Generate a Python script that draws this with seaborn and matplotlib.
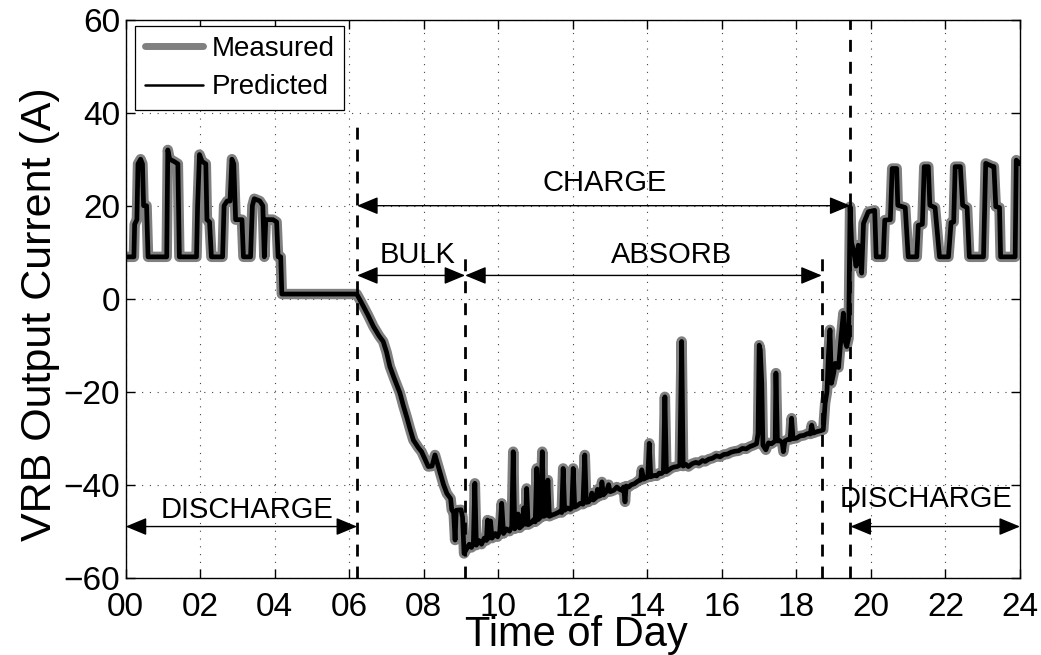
import matplotlib
matplotlib.use("Agg")
import matplotlib.pyplot as plt
import numpy as np
import pandas as pd
import seaborn as sns

# ---------------- data (hours, amps) ----------------
night_t = [0.00, 0.22, 0.24, 0.30, 0.33, 0.40, 0.45, 0.48, 0.56, 0.60,
           1.10, 1.13, 1.18, 1.30, 1.40, 1.44,
           1.90, 1.93, 1.98, 2.05, 2.15, 2.18, 2.25, 2.30,
           2.60, 2.64, 2.72, 2.80, 2.85, 2.90, 2.95, 3.12, 3.16,
           3.35, 3.40, 3.45, 3.60, 3.68, 3.72, 3.76, 3.95, 4.05, 4.09, 4.16, 4.19,
           6.20]
night_a = [9, 9, 16, 17, 29, 30, 29, 20, 20, 9,
           9, 32, 30, 29.5, 29, 9,
           9, 20, 31, 29.5, 29, 17, 16.5, 9,
           9, 20, 21, 21, 30, 29, 17, 17, 9,
           9, 20, 21.5, 21, 20, 9, 17, 17, 16.5, 9, 9, 1,
           1]

bulk_t = [6.29, 6.40, 6.50, 6.65, 6.80, 6.91, 7.00, 7.09, 7.20, 7.36, 7.45, 7.54, 7.63,
          7.72, 7.85, 7.94, 8.03, 8.12, 8.22, 8.30, 8.44, 8.53, 8.62, 8.72, 8.75, 8.80,
          8.84, 8.87, 9.00, 9.04, 9.08]
bulk_a = [-0.3, -2.0, -3.5, -6, -8, -9.2, -11.5, -14.6, -17, -20.3, -23, -25.4, -28,
          -30.4, -32, -32.9, -34.5, -36.1, -36, -33.6, -37.5, -40, -41.9, -43, -45.4, -46,
          -51.9, -45.5, -45.4, -47, -54.8]

absorb_t = [9.10, 9.15, 9.22, 9.28, 9.33, 9.37, 9.41, 9.48, 9.55, 9.62, 9.68, 9.71, 9.75,
            9.79, 9.83, 9.92, 9.98, 10.04, 10.09, 10.14, 10.22, 10.30, 10.36, 10.40, 10.44,
            10.50, 10.53, 10.57, 10.64, 10.68, 10.73, 10.76, 10.80, 10.88, 10.95, 10.99,
            11.03, 11.07, 11.13, 11.18, 11.22, 11.30, 11.33, 11.37, 11.45, 11.52, 11.60,
            11.66, 11.70, 11.74, 11.78, 11.86, 11.93, 11.97, 12.01, 12.05, 12.12, 12.20,
            12.27, 12.32, 12.36, 12.42, 12.48, 12.51, 12.55, 12.62, 12.66, 12.70, 12.75,
            12.78, 12.82, 12.90, 12.96, 13.00, 13.10, 13.18, 13.25, 13.31, 13.36, 13.40,
            13.43, 13.50, 13.57, 13.65, 13.75, 13.82, 13.85, 13.90, 13.97, 14.01, 14.05,
            14.09, 14.18, 14.25, 14.32, 14.38, 14.43, 14.47, 14.51, 14.58, 14.65, 14.72,
            14.80, 14.87, 14.92, 14.96, 15.03, 15.10, 15.20, 15.30, 15.38, 15.48, 15.55,
            15.65, 15.75, 15.85, 15.95, 16.05, 16.15, 16.25, 16.35, 16.45, 16.55, 16.65,
            16.75, 16.85, 16.93, 16.97, 17.00, 17.03, 17.07, 17.10, 17.18, 17.25, 17.33,
            17.40, 17.43, 17.45, 17.49, 17.55, 17.62, 17.65, 17.69, 17.76, 17.83, 17.87,
            17.91, 18.00, 18.10, 18.20, 18.30, 18.37, 18.41, 18.45, 18.55, 18.65, 18.72]
absorb_a = [-54.5, -53.8, -52.8, -53.5, -52.5, -39.7, -53, -52, -52.8, -51.5, -52, -47.6, -51.5,
            -47.8, -51.5, -50.5, -51.2, -50, -44, -50.5, -49.5, -50, -49, -32.9, -49.5,
            -48.5, -46.3, -49.3, -48.8, -45, -48.5, -40.8, -48.6, -48.2, -47.5, -48,
            -36.5, -47.5, -47, -32.9, -46.8, -46.5, -39, -46.8, -46.5, -46.3, -46,
            -45.7, -46, -36.5, -45.5, -45, -45.3, -45, -36.5, -44.8, -44.5, -44,
            -44.2, -33.6, -43.8, -43.7, -43, -41.8, -43.3, -42.8, -41, -42.5, -42.3,
            -39.4, -42.2, -41.5, -40, -41.5, -41.2, -40.5, -41, -41.2, -40.5, -43.7,
            -40.3, -40.5, -40, -39.8, -39.2, -39, -36.8, -38.8, -38.5, -38.4, -31.1,
            -38.3, -38, -38.1, -37.5, -37.6, -37.2, -21.1, -37.2, -36.8, -36.4, -36.2,
            -36.1, -35.8, -9.2, -36, -35.6, -36.1, -35.5, -35.2, -35.4, -34.8, -35,
            -34.5, -34.3, -33.8, -34, -33.5, -33.4, -33.0, -32.8, -32.7, -32.2, -32.3,
            -31.8, -31.5, -31.2, -29, -10, -11, -18.2, -31.5, -32.5, -31, -31.2,
            -30.8, -30.6, -16, -30.6, -30.5, -31, -32.9, -30.6, -30.3, -30.3, -25.7,
            -30.1, -30.0, -29.5, -29.4, -29, -29.1, -27.2, -28.9, -28.6, -28.4, -28.2]

rise_t = [18.77, 18.82, 18.86, 18.90, 18.94, 19.00, 19.04, 19.13, 19.20, 19.26, 19.30,
          19.35, 19.40, 19.44]
rise_a = [-22.5, -20, -12, -6.7, -18.2, -16, -13.9, -14.8, -8, -3.1, -9,
          -10.3, -8.5, 19.8]

evening_t = [19.48, 19.53, 19.60, 19.66, 19.72, 19.75, 19.80, 19.93, 20.10, 20.14, 20.33,
             20.37, 20.52, 20.57, 20.69, 20.72, 20.92, 21.00, 21.23, 21.27, 21.38, 21.43,
             21.54, 21.58, 21.72, 21.84, 22.08, 22.15, 22.22, 22.26, 22.40, 22.46, 22.58,
             22.64, 23.02, 23.08, 23.25, 23.30, 23.35, 23.45, 23.48, 23.87, 23.90, 24.00]
evening_a = [12, 10.5, 7, 11.5, 9, 5.5, 16.2, 18.7, 19, 9, 9,
             16.9, 17, 28, 28, 20.1, 19.6, 9, 9, 15.8, 16, 28.4,
             28.4, 20.1, 19.6, 9, 9, 16.4, 16.5, 28.4, 28.4, 20.1, 19.6,
             9, 9, 29.1, 28.5, 28.4, 19.8, 19.6, 9, 9, 29.8, 29]

x_ticks = [0, 2, 4, 6, 8, 10, 12, 14, 16, 18, 20, 22, 24]
x_tick_labels = ["00", "02", "04", "06", "08", "10", "12", "14", "16", "18", "20", "22", "24"]
y_ticks = [-60, -40, -20, 0, 20, 40, 60]
y_tick_labels = ["\u221260", "\u221240", "\u221220", "0", "20", "40", "60"]

# phase boundaries (hour, top of dashed line in A)
boundary_t = [6.21, 9.11, 18.68, 19.45]
boundary_top = [38, 10, 9.5, 60]

# phase arrows (start hour, end hour, level A)
arrow_start = [6.21, 6.21, 9.11, 0.0, 19.45]
arrow_end = [19.45, 9.11, 18.68, 6.21, 24.0]
arrow_level = [20, 5, 5, -49, -49]

phase_labels = ["CHARGE", "BULK", "ABSORB", "DISCHARGE", "DISCHARGE"]
label_x = [12.86, 7.83, 14.65, 3.25, 21.47]
label_y = [23.2, 7.6, 7.6, -47.2, -44.9]

# ---------------- build ----------------
time_h = night_t + bulk_t + absorb_t + rise_t + evening_t
measured = night_a + bulk_a + absorb_a + rise_a + evening_a
predicted = list(measured)

df = pd.DataFrame({"t": time_h, "measured": measured, "predicted": predicted})

sns.set_style("white")
plt.rcParams["font.family"] = ["Liberation Sans", "DejaVu Sans"]
plt.rcParams["axes.unicode_minus"] = True
plt.rcParams["text.color"] = "black"
plt.rcParams["axes.labelcolor"] = "black"
plt.rcParams["xtick.color"] = "black"
plt.rcParams["ytick.color"] = "black"

fig = plt.figure(figsize=(10.41, 6.55), dpi=100)
ax = fig.add_axes([0.12075, 0.11802, 0.85908, 0.85191])

sns.lineplot(data=df, x="t", y="measured", sort=False, estimator=None,
             color="#808080", lw=7.5, ax=ax, label="Measured")
sns.lineplot(data=df, x="t", y="predicted", sort=False, estimator=None,
             color="black", lw=3.4, ax=ax, label="Predicted")
for ln in ax.lines:
    ln.set_solid_joinstyle("round")
    ln.set_solid_capstyle("round")

for t, top in zip(boundary_t, boundary_top):
    ax.plot([t, t], [-60, top], color="black", lw=2, linestyle=(0, (4.3, 3.6)), zorder=3)

for x0, x1, y in zip(arrow_start, arrow_end, arrow_level):
    ax.annotate("", xy=(x1, y), xytext=(x0, y),
                arrowprops=dict(arrowstyle="<|-|>,head_length=0.65,head_width=0.27",
                                mutation_scale=20, lw=1.0, color="black",
                                shrinkA=0, shrinkB=0), zorder=4)

for s, x, y in zip(phase_labels, label_x, label_y):
    ax.text(x, y, s, ha="center", va="baseline", fontsize=21, color="black")

ax.set_xlim(0, 24)
ax.set_ylim(-60, 60)
ax.set_xticks(x_ticks)
ax.set_xticklabels(x_tick_labels)
ax.set_yticks(y_ticks)
ax.set_yticklabels(y_tick_labels)

ax.grid(True, linestyle=(0, (1, 6)), color="#444444", lw=0.8)
for sp in ax.spines.values():
    sp.set_visible(True)
    sp.set_color("black")
    sp.set_linewidth(1.0)

ax.tick_params(direction="in", length=6.5, width=1, top=True, right=True,
               bottom=True, left=True, colors="black", labelcolor="black", labelsize=24)
ax.tick_params(axis="x", pad=10.5)
ax.tick_params(axis="y", pad=4)

ax.set_xlabel("Time of Day", fontsize=30, va="baseline", color="black")
ax.xaxis.set_label_coords(0.5035, -0.1225)
ax.set_ylabel("VRB Output Current (A)", fontsize=31, va="center", color="black")
ax.yaxis.set_label_coords(-0.0958, 0.4726)

leg = ax.legend(loc="upper left", bbox_to_anchor=(0.0104, 0.9887), borderaxespad=0,
                fontsize=20, handlelength=2.1, handletextpad=0.3, labelspacing=0.45,
                borderpad=0.35, frameon=True, fancybox=False, framealpha=1,
                edgecolor="black")
leg.get_frame().set_linewidth(0.9)
for txt in leg.get_texts():
    txt.set_color("black")
leg_lines = leg.get_lines()
leg_lines[0].set_linewidth(5)
leg_lines[1].set_linewidth(1.8)

fig.savefig("out.png", dpi=100)
